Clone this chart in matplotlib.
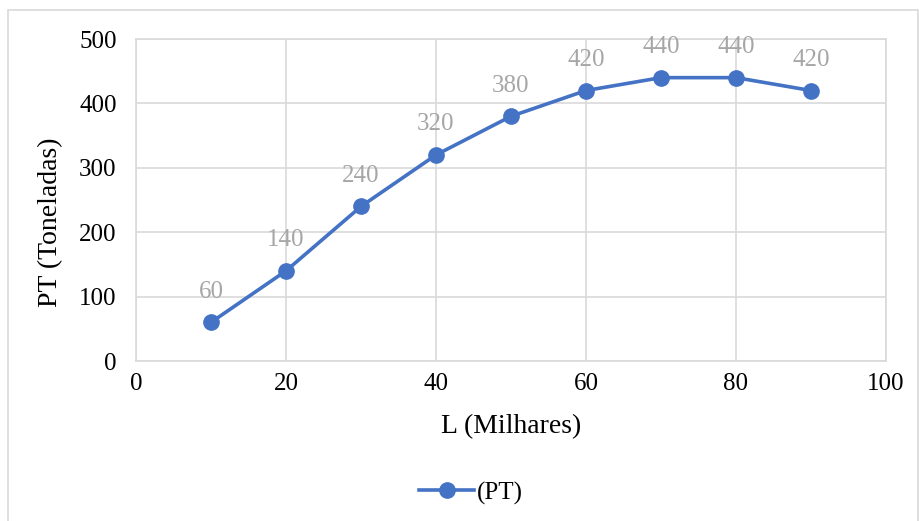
import matplotlib.pyplot as plt
from matplotlib.patches import Rectangle

# producao total por mao de obra
L = [10, 20, 30, 40, 50, 60, 70, 80, 90]
PT = [60, 140, 240, 320, 380, 420, 440, 440, 420]
xticks = [0, 20, 40, 60, 80, 100]
yticks = [0, 100, 200, 300, 400, 500]

plt.rcParams['font.family'] = ['Liberation Serif', 'DejaVu Serif']

fig = plt.figure(figsize=(9.2, 5.21), dpi=100)
W, H = 920, 521

# moldura do grafico
fig.patches.append(Rectangle((8 / W, -0.01), 910 / W, 1 - 10 / H + 0.01,
                             transform=fig.transFigure, fill=False,
                             edgecolor='#d9d9d9', lw=1.2))

ax = fig.add_axes([136 / W, (H - 361) / H, 750 / W, 322 / H])
ax.plot(L, PT, color='#4472c4', lw=2.6, marker='o', ms=11, label='(PT)', zorder=3)

for x, y in zip(L, PT):
    ax.annotate(str(y), (x, y), xytext=(0, 22), textcoords='offset points',
                ha='center', va='center', fontsize=18, color='#a6a6a6')

ax.set_xlim(0, 100)
ax.set_ylim(0, 500)
ax.set_xticks(xticks)
ax.set_yticks(yticks)
ax.grid(True, color='#d9d9d9', lw=1.2)
ax.set_axisbelow(True)
for s in ax.spines.values():
    s.set_color('#d9d9d9')
    s.set_linewidth(1.2)
ax.tick_params(length=0, labelsize=18)
ax.tick_params(axis='y', pad=14)
ax.tick_params(axis='x', pad=9)

# titulos dos eixos
fig.text(511 / W, 1 - 427 / H, 'L (Milhares)', fontsize=20, ha='center', va='center')
fig.text(51 / W, 1 - 222 / H, 'PT (Toneladas)', fontsize=20, rotation=90,
         ha='center', va='center')

fig.legend(loc='center', bbox_to_anchor=(471 / W, 1 - 493 / H), frameon=False,
           fontsize=18, handlelength=2.2, handletextpad=0.1)

fig.savefig('out.png', dpi=100)
